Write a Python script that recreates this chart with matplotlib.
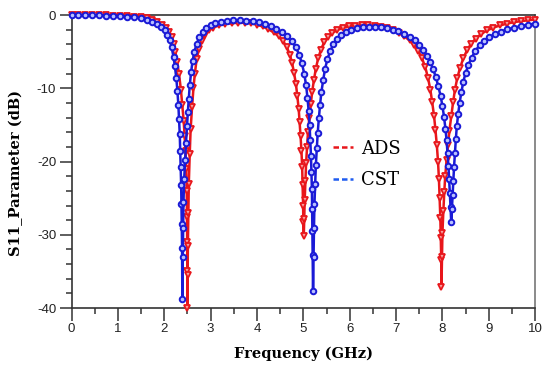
import matplotlib.pyplot as plt
from matplotlib.lines import Line2D

plt.rcParams['axes.unicode_minus'] = False

# ADS simulation (red)
ads_freq = [0.00, 0.15, 0.30, 0.45, 0.60, 0.75, 0.90, 1.05, 1.20, 1.35, 1.50, 1.62, 1.74, 1.85, 1.95,
            2.04, 2.11, 2.16, 2.20, 2.24, 2.28, 2.32, 2.36, 2.39, 2.42, 2.44, 2.46, 2.475, 2.485, 2.49,
            2.495, 2.498, 2.50, 2.505, 2.51, 2.52, 2.53, 2.55, 2.57, 2.60, 2.63, 2.66, 2.70, 2.75, 2.81,
            2.88, 2.96, 3.06, 3.18, 3.32, 3.46, 3.60, 3.74, 3.88, 4.00, 4.12, 4.24, 4.36, 4.47, 4.56,
            4.64, 4.71, 4.76, 4.80, 4.84, 4.87, 4.90, 4.92, 4.94, 4.96, 4.975, 4.985, 4.995, 5.00, 5.01,
            5.02, 5.03, 5.045, 5.06, 5.08, 5.10, 5.13, 5.16, 5.19, 5.23, 5.27, 5.32, 5.38, 5.45, 5.53,
            5.62, 5.73, 5.85, 5.98, 6.12, 6.26, 6.40, 6.54, 6.68, 6.81, 6.94, 7.06, 7.18, 7.29, 7.39,
            7.48, 7.56, 7.63, 7.69, 7.74, 7.78, 7.82, 7.85, 7.88, 7.905, 7.925, 7.94, 7.955, 7.965, 7.975,
            7.98, 7.99, 8.00, 8.02, 8.04, 8.06, 8.09, 8.12, 8.15, 8.19, 8.23, 8.27, 8.32, 8.38, 8.45,
            8.53, 8.62, 8.72, 8.83, 8.96, 9.10, 9.25, 9.40, 9.55, 9.70, 9.85, 10.00]
ads_s11 = [0.00, 0.00, -0.01, -0.02, -0.03, -0.05, -0.07, -0.10, -0.14, -0.20, -0.32, -0.46, -0.68, -0.95, -1.30,
           -1.75, -2.30, -3.00, -3.90, -5.00, -6.40, -8.10, -10.2, -12.3, -14.5, -16.5, -18.6, -21.0, -24.0, -27.5,
           -31.0, -35.0, -40.0, -35.5, -31.5, -27.0, -23.0, -19.0, -15.5, -12.6, -10.0, -8.0, -6.0, -4.6, -3.5,
           -2.7, -2.1, -1.7, -1.40, -1.20, -1.10, -1.05, -1.05, -1.12, -1.30, -1.55, -1.90, -2.35, -2.90, -3.50,
           -4.30, -5.40, -6.60, -7.90, -9.40, -11.0, -12.8, -14.6, -16.5, -18.6, -20.8, -23.2, -26.0, -28.2, -30.2,
           -27.8, -25.2, -22.6, -20.2, -18.0, -16.0, -14.0, -12.2, -10.5, -8.8, -7.3, -5.9, -4.7, -3.7, -3.0,
           -2.45, -2.05, -1.75, -1.55, -1.42, -1.38, -1.40, -1.48, -1.62, -1.82, -2.10, -2.45, -2.90, -3.45, -4.10,
           -4.90, -5.90, -7.10, -8.60, -10.2, -11.9, -13.8, -15.7, -17.8, -20.0, -22.4, -25.0, -27.7, -30.5, -33.5,
           -37.1, -33.0, -29.8, -26.8, -24.2, -22.0, -19.8, -17.8, -15.8, -13.8, -11.9, -10.2, -8.6, -7.2, -5.9,
           -4.8, -3.9, -3.2, -2.6, -2.1, -1.70, -1.40, -1.15, -0.95, -0.82, -0.70, -0.60]

# CST simulation (blue)
cst_freq = [0.00, 0.15, 0.30, 0.45, 0.60, 0.75, 0.90, 1.05, 1.20, 1.35, 1.50, 1.62, 1.74, 1.84, 1.93,
            2.01, 2.07, 2.12, 2.16, 2.20, 2.23, 2.26, 2.285, 2.305, 2.32, 2.335, 2.345, 2.355, 2.365, 2.372,
            2.378, 2.385, 2.39, 2.40, 2.405, 2.415, 2.43, 2.45, 2.47, 2.49, 2.51, 2.53, 2.55, 2.58, 2.61,
            2.65, 2.70, 2.76, 2.83, 2.91, 3.00, 3.10, 3.22, 3.35, 3.49, 3.63, 3.77, 3.91, 4.04, 4.17,
            4.30, 4.42, 4.54, 4.65, 4.75, 4.84, 4.91, 4.97, 5.02, 5.06, 5.09, 5.115, 5.135, 5.15, 5.165,
            5.175, 5.185, 5.19, 5.195, 5.20, 5.21, 5.22, 5.23, 5.24, 5.255, 5.27, 5.29, 5.31, 5.335, 5.36,
            5.39, 5.43, 5.47, 5.52, 5.58, 5.65, 5.73, 5.82, 5.92, 6.03, 6.15, 6.28, 6.41, 6.54, 6.67,
            6.80, 6.93, 7.05, 7.17, 7.29, 7.40, 7.50, 7.59, 7.67, 7.74, 7.80, 7.86, 7.91, 7.96, 8.00,
            8.035, 8.065, 8.09, 8.11, 8.13, 8.145, 8.16, 8.175, 8.19, 8.205, 8.22, 8.235, 8.25, 8.27, 8.29,
            8.31, 8.34, 8.37, 8.41, 8.45, 8.50, 8.56, 8.63, 8.71, 8.80, 8.90, 9.01, 9.13, 9.26, 9.40,
            9.55, 9.70, 9.85, 10.00]
cst_s11 = [0.00, 0.00, -0.01, -0.02, -0.04, -0.06, -0.09, -0.13, -0.19, -0.28, -0.42, -0.60, -0.88, -1.20, -1.60,
           -2.10, -2.70, -3.40, -4.40, -5.70, -7.00, -8.60, -10.4, -12.3, -14.2, -16.3, -18.5, -20.8, -23.2, -25.8,
           -28.5, -31.8, -38.7, -33.0, -29.0, -25.5, -22.4, -19.8, -17.4, -15.2, -13.2, -11.4, -9.6, -7.8, -6.3,
           -5.0, -3.9, -3.0, -2.3, -1.80, -1.40, -1.10, -0.90, -0.78, -0.72, -0.72, -0.76, -0.85, -1.00, -1.22,
           -1.52, -1.90, -2.35, -2.90, -3.55, -4.40, -5.40, -6.60, -8.00, -9.60, -11.3, -13.1, -15.0, -17.0, -19.2,
           -21.4, -23.8, -26.5, -29.5, -32.8, -37.7, -33.0, -29.0, -25.8, -23.0, -20.5, -18.2, -16.1, -14.1, -12.3,
           -10.5, -8.8, -7.3, -6.0, -4.9, -4.0, -3.3, -2.75, -2.35, -2.05, -1.82, -1.68, -1.62, -1.62, -1.68,
           -1.80, -1.98, -2.22, -2.55, -2.95, -3.45, -4.05, -4.75, -5.55, -6.45, -7.40, -8.50, -9.70, -11.0, -12.4,
           -13.9, -15.5, -17.1, -18.8, -20.6, -22.4, -24.3, -26.2, -28.3, -26.5, -24.6, -22.7, -20.8, -18.8, -16.9,
           -15.2, -13.5, -12.0, -10.5, -9.1, -7.9, -6.8, -5.8, -4.9, -4.1, -3.5, -3.0, -2.6, -2.25, -1.95,
           -1.70, -1.48, -1.30, -1.15]

x_ticks = [0, 1, 2, 3, 4, 5, 6, 7, 8, 9, 10]
y_ticks = [0, -10, -20, -30, -40]

fig = plt.figure(figsize=(5.5, 3.78), dpi=100)
ax = fig.add_axes([0.130, 0.185, 0.843, 0.775])

ax.plot(ads_freq, ads_s11, color='#e8161b', lw=1.8, marker='v', ms=5, mew=1.3,
        mfc='#f7a0a0', mec='#e8161b', clip_on=False, zorder=3)
ax.plot(cst_freq, cst_s11, color='#1a1ad6', lw=1.8, marker='o', ms=4, mew=1.4,
        mfc='#b8c0ff', mec='#1a1ad6', clip_on=False, zorder=4)

ax.set_xlim(0, 10)
ax.set_ylim(-40, 0)
ax.set_xticks(x_ticks)
ax.set_yticks(y_ticks)
ax.set_xticks([x + 0.5 for x in x_ticks[:-1]], minor=True)
ax.set_yticks(range(-40, 1, 2), minor=True)
ax.tick_params(which='major', direction='out', length=9, width=1.1, color='#333333',
               labelsize=9.5, labelcolor='#222222', pad=2)
ax.tick_params(which='minor', direction='out', length=4.5, width=1.1, color='#333333')
for lab in ax.get_xticklabels() + ax.get_yticklabels():
    lab.set_family('Liberation Sans')

for side in ['left', 'bottom', 'top']:
    ax.spines[side].set_color('#333333')
    ax.spines[side].set_linewidth(1.2)
ax.spines['right'].set_color('#777777')
ax.spines['right'].set_linewidth(1.2)

ax.set_xlabel('Frequency (GHz)', family='DejaVu Serif', fontweight='bold', fontsize=10.5, labelpad=8)
ax.set_ylabel('S11_Parameter (dB)', family='DejaVu Serif', fontweight='bold', fontsize=10.5)
ax.yaxis.set_label_coords(-0.105, 0.46)

handles = [Line2D([], [], color='#e8161b', ls='--', lw=1.8, dashes=(2.2, 1.2)),
           Line2D([], [], color='#1f5cf0', ls='--', lw=1.8, dashes=(2.2, 1.2))]
leg = ax.legend(handles, ['ADS', 'CST'], frameon=False, loc='upper left',
                bbox_to_anchor=(0.53, 0.63), handlelength=1.1, handletextpad=0.45,
                labelspacing=0.75, prop={'family': 'DejaVu Serif', 'size': 13})

fig.savefig('out.png', dpi=100)
